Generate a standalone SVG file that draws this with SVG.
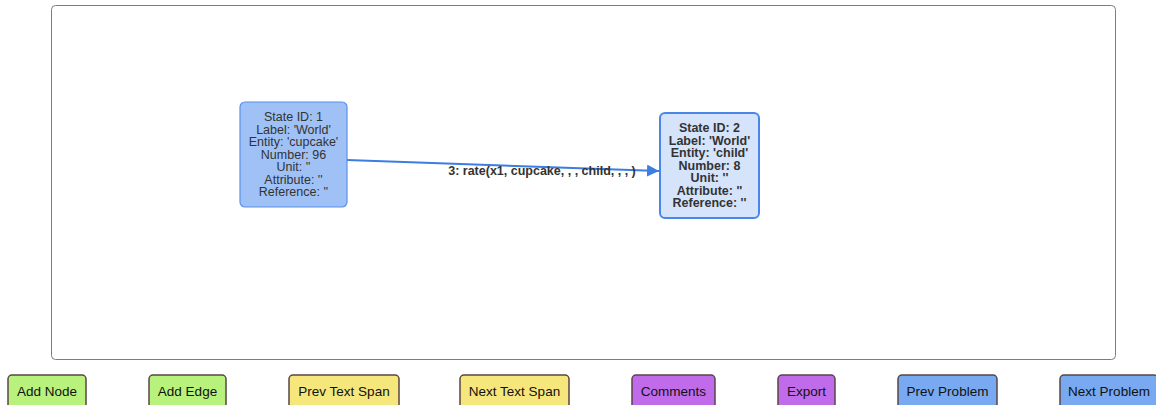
<svg xmlns="http://www.w3.org/2000/svg" width="1156" height="405" viewBox="0 0 1156 405">
<style>
text{font-family:"Liberation Sans",Arial,sans-serif;font-size:12.5px;fill:#333;text-anchor:middle}
.b text{font-size:13.5px;fill:#111}
.n1 rect{fill:#9fc1f6;stroke:#5b90ea;stroke-width:1.2}
.n2 rect{fill:#d5e4fb;stroke:#4a86e8;stroke-width:2}
.n2 text{font-weight:bold}
.btn{stroke:#5a4646;stroke-width:1.5}
.edge{stroke:#3b7de2;stroke-width:2;fill:none}
.elabel{font-weight:bold;fill:#333}
</style>
<defs>
<marker id="arr" viewBox="0 0 10 10" refX="10" refY="5" markerWidth="6" markerHeight="6" orient="auto" markerUnits="strokeWidth">
<path d="M0,0 L10,5 L0,10 z" fill="#3b7de2"/>
</marker>
</defs>
<rect x="51.5" y="5.5" width="1064" height="354" rx="4" fill="#fff" stroke="#8b7676" stroke-width="1"/>
<g id="connectors">
<line class="edge" x1="347" y1="160" x2="659" y2="171" marker-end="url(#arr)"/>
<text class="elabel" x="542" y="175">3: rate(x1, cupcake, , , child, , , )</text>
</g>
<g id="node1" class="n1">
<rect x="240" y="102" width="107" height="105" rx="5"/>
<text x="293.5" y="121">State ID: 1</text>
<text x="293.5" y="133.5">Label: 'World'</text>
<text x="293.5" y="146">Entity: 'cupcake'</text>
<text x="293.5" y="158.5">Number: 96</text>
<text x="293.5" y="171">Unit: ''</text>
<text x="293.5" y="183.5">Attribute: ''</text>
<text x="293.5" y="196">Reference: ''</text>
</g>
<g id="node2" class="n2">
<rect x="660" y="113" width="99" height="105" rx="5"/>
<text x="709.5" y="132">State ID: 2</text>
<text x="709.5" y="144.5">Label: 'World'</text>
<text x="709.5" y="157">Entity: 'child'</text>
<text x="709.5" y="169.5">Number: 8</text>
<text x="709.5" y="182">Unit: ''</text>
<text x="709.5" y="194.5">Attribute: ''</text>
<text x="709.5" y="207">Reference: ''</text>
</g>
<g class="b">
<g id="btn-add-node"><rect class="btn" x="8" y="375" width="78" height="40" rx="4" fill="#b8f27c"/><text x="47" y="396">Add Node</text></g>
<g id="btn-add-edge"><rect class="btn" x="149" y="375" width="77" height="40" rx="4" fill="#b8f27c"/><text x="187.5" y="396">Add Edge</text></g>
<g id="btn-prev-span"><rect class="btn" x="289" y="375" width="110" height="40" rx="4" fill="#f6e77c"/><text x="344" y="396">Prev Text Span</text></g>
<g id="btn-next-span"><rect class="btn" x="460" y="375" width="109" height="40" rx="4" fill="#f6e77c"/><text x="514.5" y="396">Next Text Span</text></g>
<g id="btn-comments"><rect class="btn" x="632" y="375" width="83" height="40" rx="4" fill="#c06bea"/><text x="673.5" y="396">Comments</text></g>
<g id="btn-export"><rect class="btn" x="778" y="375" width="57" height="40" rx="4" fill="#c06bea"/><text x="806.5" y="396">Export</text></g>
<g id="btn-prev-problem"><rect class="btn" x="898" y="375" width="99" height="40" rx="4" fill="#79a9f1"/><text x="947.5" y="396">Prev Problem</text></g>
<g id="btn-next-problem"><rect class="btn" x="1060" y="375" width="98" height="40" rx="4" fill="#79a9f1"/><text x="1109" y="396">Next Problem</text></g>
</g>
</svg>
